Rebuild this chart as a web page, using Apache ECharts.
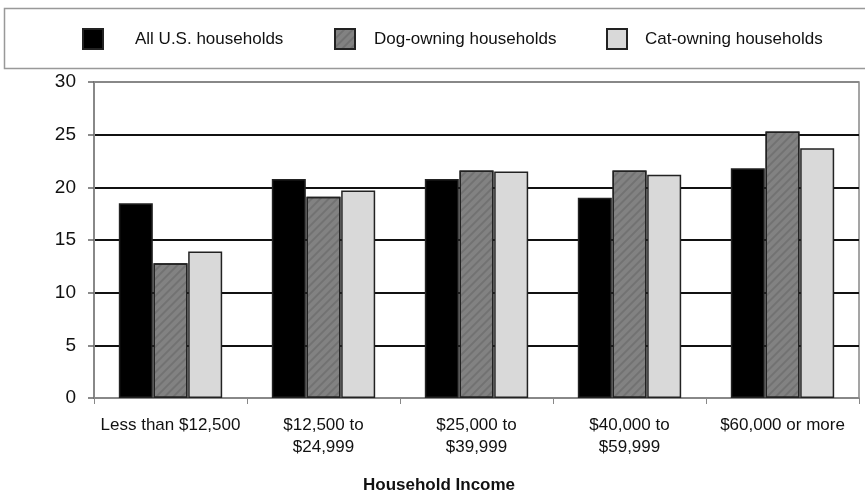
<!DOCTYPE html>
<html>
<head>
<meta charset="utf-8">
<script src="https://cdn.jsdelivr.net/npm/echarts@6/dist/echarts.min.js"></script>
<style>
html,body{margin:0;padding:0;background:#fff;}
#chart{width:865px;height:496px;}
</style>
</head>
<body>
<div id="chart"></div>
<script>
var categories = ['Less than $12,500', '$12,500 to\n$24,999', '$25,000 to\n$39,999', '$40,000 to\n$59,999', '$60,000 or more'];
var allHouseholds = [18.5, 20.8, 20.8, 19.0, 21.8];
var dogHouseholds = [12.8, 19.1, 21.6, 21.6, 25.3];
var catHouseholds = [13.9, 19.7, 21.5, 21.2, 23.7];
var seriesNames = ['All U.S. households', 'Dog-owning households', 'Cat-owning households'];
var yTicks = [0, 5, 10, 15, 20, 25, 30];
var xAxisTitle = 'Household Income';

var FONT = '"Liberation Sans", Arial, sans-serif';
var chart = echarts.init(document.getElementById('chart'), null, {renderer: 'canvas'});

function legendFor(name, left, gap) {
  return {
    data: [name],
    left: left,
    top: 28,
    itemWidth: 20,
    itemHeight: 20,
    padding: 0,
    icon: 'rect',
    selectedMode: false,
    textStyle: {fontFamily: FONT, fontSize: 17, color: '#111', padding: [0, 0, 0, gap]}
  };
}

var option = {
  animation: false,
  backgroundColor: '#fff',
  graphic: [{
    type: 'rect',
    shape: {x: 4.5, y: 8.5, width: 870, height: 60},
    style: {fill: 'none', stroke: '#999', lineWidth: 1.5},
    silent: true
  }],
  title: {
    text: xAxisTitle,
    left: 363,
    top: 477,
    padding: 0,
    textStyle: {fontFamily: FONT, fontSize: 17, fontWeight: 'bold', color: '#111'}
  },
  legend: [
    legendFor(seriesNames[0], 82, 27),
    legendFor(seriesNames[1], 334, 14),
    legendFor(seriesNames[2], 606, 13)
  ],
  grid: {
    left: 94, right: 6, top: 82, bottom: 98,
    show: true, borderColor: '#888', borderWidth: 1.5, backgroundColor: 'transparent'
  },
  xAxis: {
    type: 'category',
    data: categories,
    axisLine: {show: true, lineStyle: {color: '#888', width: 1.5}},
    axisTick: {show: true, alignWithLabel: false, length: 6, lineStyle: {color: '#888', width: 1}},
    axisLabel: {fontFamily: FONT, fontSize: 17, color: '#111', margin: 16, lineHeight: 22, interval: 0},
    splitLine: {show: false}
  },
  yAxis: {
    type: 'value',
    min: 0, max: 30, interval: 5,
    axisLine: {show: true, lineStyle: {color: '#888', width: 2}},
    axisTick: {show: true, length: 6, lineStyle: {color: '#666', width: 1.5}},
    axisLabel: {fontFamily: FONT, fontSize: 19, color: '#111', margin: 18,
      formatter: function (v) { return yTicks.indexOf(v) >= 0 ? String(v) : ''; }},
    splitLine: {show: true, lineStyle: {color: ['#888', '#111', '#111', '#111', '#111', '#111', '#888'], width: 2}}
  },
  series: [
    {
      name: seriesNames[0], type: 'bar', data: allHouseholds,
      barWidth: 34, barGap: '2%', barCategoryGap: '33%',
      itemStyle: {color: '#000', borderColor: '#222', borderWidth: 1.5}
    },
    {
      name: seriesNames[1], type: 'bar', data: dogHouseholds,
      barWidth: 34, barGap: '2%',
      itemStyle: {
        color: '#828282', borderColor: '#222', borderWidth: 1.5,
        decal: {symbol: 'rect', dashArrayX: [1, 0], dashArrayY: [2, 4], rotation: -Math.PI / 4, color: 'rgba(0,0,0,0.12)'}
      }
    },
    {
      name: seriesNames[2], type: 'bar', data: catHouseholds,
      barWidth: 34, barGap: '2%',
      itemStyle: {color: '#d9d9d9', borderColor: '#222', borderWidth: 1.5}
    }
  ]
};
chart.setOption(option);
</script>
</body>
</html>
